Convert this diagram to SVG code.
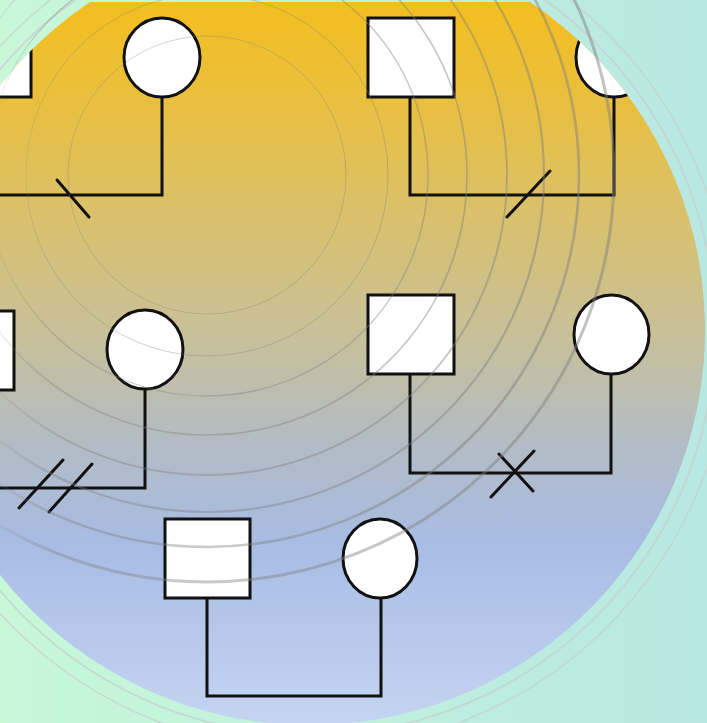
<svg xmlns="http://www.w3.org/2000/svg" width="707" height="723" viewBox="0 0 707 723">
  <defs>
    <linearGradient id="bg" x1="0" y1="0" x2="1" y2="0">
      <stop offset="0" stop-color="#c8f8d8"/>
      <stop offset="1" stop-color="#b8e8e2"/>
    </linearGradient>
    <linearGradient id="blobFill" gradientUnits="userSpaceOnUse" x1="0" y1="0" x2="0" y2="723">
      <stop offset="0" stop-color="#f4be1e"/>
      <stop offset="0.15" stop-color="#e8bf40"/>
      <stop offset="0.3" stop-color="#d9c06c"/>
      <stop offset="0.46" stop-color="#c8c098"/>
      <stop offset="0.62" stop-color="#b2bcc6"/>
      <stop offset="0.75" stop-color="#a8bce4"/>
      <stop offset="1" stop-color="#c4d4f2"/>
    </linearGradient>
    <linearGradient id="rippleStroke" gradientUnits="userSpaceOnUse" x1="0" y1="0" x2="707" y2="0">
      <stop offset="0" stop-color="#808080" stop-opacity="0.1"/>
      <stop offset="0.08" stop-color="#808080" stop-opacity="0.4"/>
      <stop offset="1" stop-color="#808080" stop-opacity="0.5"/>
    </linearGradient>
    <clipPath id="blobClip">
      <path d="M90,2 L530,2 A395,395 0 1 1 90,2 Z"/>
    </clipPath>
    <style>
      .node { fill: #ffffff; stroke: #111111; stroke-width: 3; }
      .line { fill: none; stroke: #111111; stroke-width: 3; stroke-linejoin: miter; }
      .mark { fill: none; stroke: #111111; stroke-width: 3; stroke-linecap: round; }
      .ripple { fill: none; stroke: url(#rippleStroke); }
      .halo { fill: none; stroke: #c6d2d0; stroke-opacity: 0.8; }
    </style>
  </defs>

  <rect x="0" y="0" width="707" height="723" fill="url(#bg)"/>
  <g id="halo">
    <circle class="halo" cx="310" cy="330" r="405" stroke-width="2"/>
    <circle class="halo" cx="310" cy="330" r="420" stroke-width="1.5"/>
  </g>
  <path id="blob" d="M90,2 L530,2 A395,395 0 1 1 90,2 Z" fill="url(#blobFill)"/>

  <g clip-path="url(#blobClip)">
    <g id="connectors">
      <path class="line" d="M-12,97 V195 H162 V97"/>
      <path class="line" d="M410,97 V195 H614 V97"/>
      <path class="line" d="M-29,390 V488 H145 V389"/>
      <path class="line" d="M410,374 V473 H611 V374"/>
      <path class="line" d="M207,598 V696 H381 V598"/>
      <line class="mark" x1="57" y1="180" x2="89" y2="217"/>
      <line class="mark" x1="507" y1="217" x2="550" y2="171"/>
      <line class="mark" x1="19" y1="508" x2="63" y2="460"/>
      <line class="mark" x1="49" y1="512" x2="92" y2="464"/>
      <line class="mark" x1="491" y1="497" x2="534" y2="451"/>
      <line class="mark" x1="499" y1="454" x2="533" y2="491"/>
    </g>
    <g id="male1"><rect class="node" x="-55" y="18" width="86" height="79"/></g>
    <g id="female1"><ellipse class="node" cx="162" cy="57.5" rx="38" ry="39.5"/></g>
    <g id="male2"><rect class="node" x="368" y="18" width="86" height="79"/></g>
    <g id="female2"><ellipse class="node" cx="614" cy="57.5" rx="38" ry="39.5"/></g>
    <g id="male3"><rect class="node" x="-72" y="311" width="86" height="79"/></g>
    <g id="female3"><ellipse class="node" cx="145" cy="349.5" rx="38" ry="39.5"/></g>
    <g id="male4"><rect class="node" x="368" y="295" width="86" height="79"/></g>
    <g id="female4"><ellipse class="node" cx="611.5" cy="334.5" rx="37.5" ry="39.5"/></g>
    <g id="male5"><rect class="node" x="165" y="519" width="85" height="79"/></g>
    <g id="female5"><ellipse class="node" cx="380" cy="558.5" rx="37" ry="39.5"/></g>
  </g>

  <g id="ripples">
    <circle class="ripple" cx="207" cy="175" r="139" stroke-width="0.8"/>
    <circle class="ripple" cx="207" cy="175" r="181" stroke-width="0.9"/>
    <circle class="ripple" cx="207" cy="175" r="221" stroke-width="1.3"/>
    <circle class="ripple" cx="207" cy="175" r="260" stroke-width="1.6"/>
    <circle class="ripple" cx="207" cy="175" r="300" stroke-width="1.8"/>
    <circle class="ripple" cx="207" cy="175" r="337" stroke-width="2.2"/>
    <circle class="ripple" cx="207" cy="175" r="372" stroke-width="2.6"/>
    <circle class="ripple" cx="207" cy="175" r="407" stroke-width="3"/>
  </g>
</svg>
